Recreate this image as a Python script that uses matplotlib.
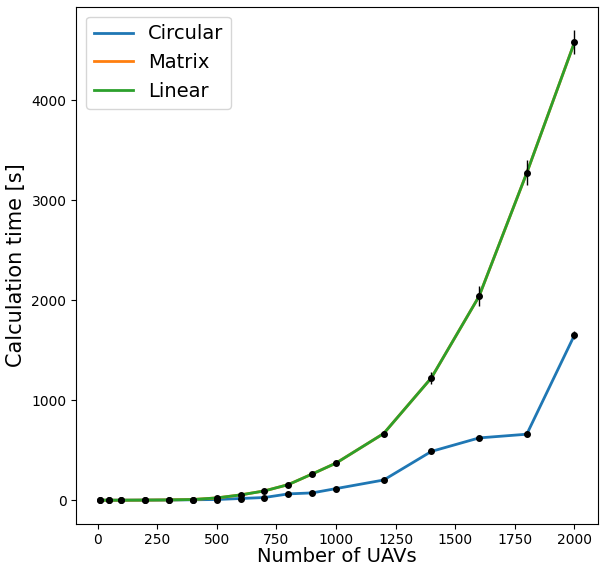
import matplotlib
matplotlib.use("Agg")
import matplotlib.pyplot as plt
import numpy as np

n_uavs = [10, 50, 100, 200, 300, 400, 500, 600, 700, 800, 900, 1000, 1200, 1400, 1600, 1800, 2000]
circular = [0, 0, 0, 1, 2, 4, 7, 17, 27, 63, 73, 116, 202, 488, 623, 660, 1652]
circular_err = [0, 0, 0, 0, 0, 0, 1, 2, 3, 4, 5, 6, 8, 12, 15, 15, 40]
matrix = [0, 0, 0, 1, 3, 7, 23, 53, 93, 156, 262, 371, 667, 1224, 2040, 3274, 4580]
linear = [0, 0, 0, 1, 3, 7, 23, 53, 93, 156, 262, 371, 667, 1224, 2040, 3274, 4580]
linear_err = [0, 0, 0, 0, 1, 1, 2, 4, 6, 8, 12, 15, 30, 60, 100, 125, 120]

fig, ax = plt.subplots(figsize=(6, 5.68), dpi=100)
ax.plot(n_uavs, circular, color='#1f77b4', lw=2, label='Circular')
ax.plot(n_uavs, matrix, color='#ff7f0e', lw=2, label='Matrix')
ax.plot(n_uavs, linear, color='#2ca02c', lw=2, label='Linear')
ax.errorbar(n_uavs, circular, yerr=circular_err, fmt='o', color='black', ms=4, elinewidth=1)
ax.errorbar(n_uavs, linear, yerr=linear_err, fmt='o', color='black', ms=4, elinewidth=1)

ax.set_xlabel('Number of UAVs', fontsize=14, labelpad=0)
ax.set_ylabel('Calculation time [s]', fontsize=15)
ax.tick_params(labelsize=10)
ax.legend(fontsize=14, loc='upper left')
fig.subplots_adjust(left=0.127, right=0.997, top=0.988, bottom=0.078)
fig.savefig('out.png')
